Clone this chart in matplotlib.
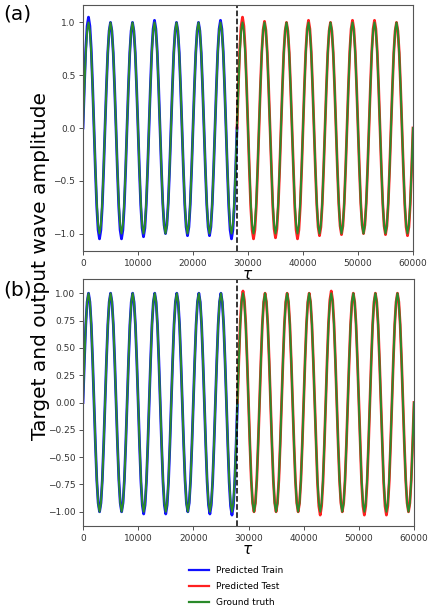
import numpy as np
import matplotlib
matplotlib.use("Agg")
import matplotlib.pyplot as plt

# ---- data ----
cycle_period = 4000          # tau per oscillation
split_tau = 28000            # train / test boundary
n_cycles_total = 15
n_cycles_train = 7

cycle_shape = [0.0, 0.38, 0.71, 0.92, 1.0, 0.92, 0.71, 0.38,
               0.0, -0.38, -0.71, -0.92, -1.0, -0.92, -0.71, -0.38]

# extremum heights per cycle (peaks, troughs)
truth_peaks = [1.0] * 15
truth_troughs = [-1.0] * 15

a_train_peaks = [1.05, 1.0, 1.0, 1.02, 1.0, 1.0, 1.02]
a_train_troughs = [-1.05, -1.05, -1.03, -1.0, -1.02, -1.02, -1.05]
a_test_peaks = [1.05, 1.01, 1.0, 1.02, 1.0, 1.02, 1.02, 1.0]
a_test_troughs = [-1.05, -1.04, -1.05, -1.02, -1.01, -1.0, -1.01, -1.02]

b_train_peaks = [1.0, 1.0, 1.0, 1.0, 1.0, 1.0, 1.0]
b_train_troughs = [-1.0, -1.0, -1.02, -1.02, -1.0, -1.02, -1.03]
b_test_peaks = [1.02, 1.0, 1.0, 1.0, 1.02, 1.0, 1.0, 1.0]
b_test_troughs = [-1.0, -1.0, -1.0, -1.03, -1.0, -1.03, -1.03, -1.0]

x_ticks = [0, 10000, 20000, 30000, 40000, 50000, 60000]
a_yticks = [-1.0, -0.5, 0.0, 0.5, 1.0]
b_yticks = [-1.0, -0.75, -0.5, -0.25, 0.0, 0.25, 0.5, 0.75, 1.0]
legend_labels = ["Predicted Train", "Predicted Test", "Ground truth"]


def build(start_cycle, peaks, troughs):
    shape = np.array(cycle_shape)
    n = len(shape)
    ys, ts = [], []
    for k, (p, tr) in enumerate(zip(peaks, troughs)):
        scale = np.where(shape >= 0, p, -tr)
        ys.append(shape * scale)
        ts.append((start_cycle + k) * cycle_period + np.arange(n) * cycle_period / n)
    t = np.concatenate(ts + [[(start_cycle + len(peaks)) * cycle_period]])
    y = np.concatenate(ys + [[0.0]])
    return t, y


W, H = 429, 610
fig = plt.figure(figsize=(W / 100, H / 100), dpi=100)


def px_axes(l, t, r, b):
    return fig.add_axes([l / W, 1 - b / H, (r - l) / W, (b - t) / H])


ax_a = px_axes(83, 5, 413, 251)
ax_b = px_axes(83, 279, 414, 526)

panels = [
    (ax_a, a_train_peaks, a_train_troughs, a_test_peaks, a_test_troughs, a_yticks, 1.165, "%.1f"),
    (ax_b, b_train_peaks, b_train_troughs, b_test_peaks, b_test_troughs, b_yticks, 1.13, "%.2f"),
]

for ax, trp, trt, tep, tet, yt, ylim, fmt in panels:
    t1, y1 = build(0, trp, trt)
    t2, y2 = build(n_cycles_train, tep, tet)
    tg, yg = build(0, truth_peaks, truth_troughs)
    ax.plot(t1, y1, color="#1010ff", lw=2.0, label=legend_labels[0])
    ax.plot(t2, y2, color="#ff2020", lw=2.0, label=legend_labels[1])
    ax.plot(tg, yg, color="#2a8a2a", lw=1.4, label=legend_labels[2])
    ax.axvline(split_tau, color="black", ls="--", lw=1.1)
    ax.set_xlim(0, 60000)
    ax.set_ylim(-ylim, ylim)
    ax.set_xticks(x_ticks)
    ax.set_yticks(yt)
    ax.set_yticklabels([(fmt % v).replace("-", "\u2212") for v in yt])
    ax.tick_params(labelsize=6.5, colors="#333333", length=3, width=0.6, pad=2.5)
    for s in ax.spines.values():
        s.set_color("#555555")
        s.set_linewidth(0.8)

fig.text(41 / W, 1 - 266 / H, "Target and output wave amplitude", rotation=90,
         ha="center", va="center", fontsize=14.5)
fig.text(248 / W, 1 - 275 / H, r"$\tau$", ha="center", va="center", fontsize=11)
fig.text(248 / W, 1 - 550 / H, r"$\tau$", ha="center", va="center", fontsize=11)
fig.text(3 / W, 1 - 4 / H, "(a)", ha="left", va="top", fontsize=14.5)
fig.text(3 / W, 1 - 281 / H, "(b)", ha="left", va="top", fontsize=14.5)

handles, labels = ax_b.get_legend_handles_labels()
leg = fig.legend(handles, labels, loc="upper left",
                 bbox_to_anchor=(183 / W, 1 - 560 / H), frameon=False,
                 fontsize=6.5, handlelength=2.2, labelspacing=0.75,
                 borderpad=0.2, handletextpad=0.8)
for h in leg.legend_handles:
    h.set_linewidth(1.6)

fig.savefig("out.png", dpi=100)
